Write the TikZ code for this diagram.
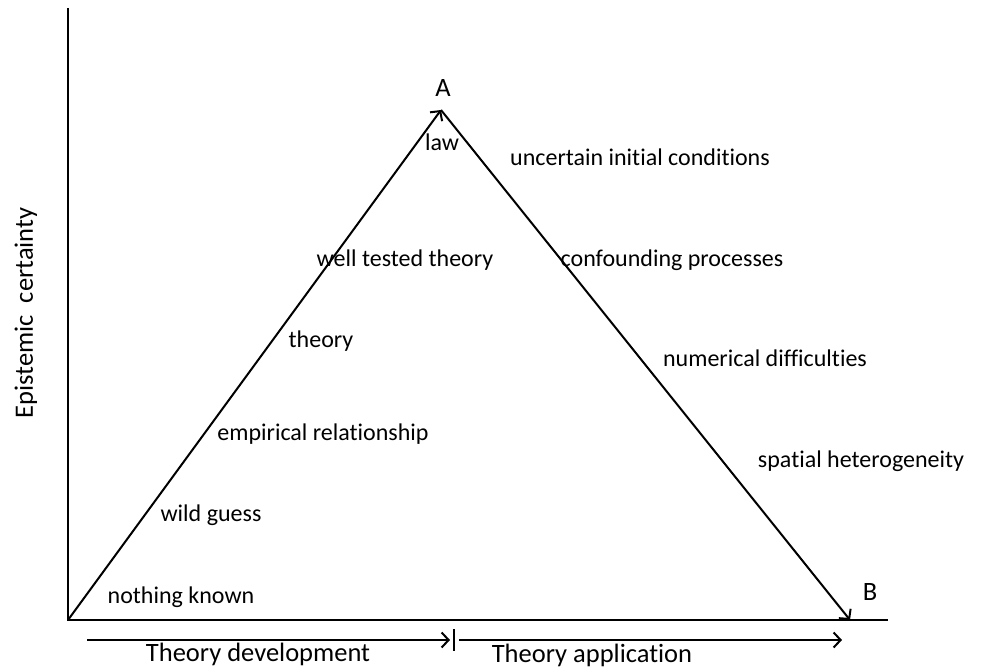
\documentclass[tikz,border=0pt]{standalone}
\usepackage{fontspec}
\setmainfont{Carlito}[Ligatures=NoCommon]
\usetikzlibrary{arrows.meta}
\begin{document}
\begin{tikzpicture}[x=1pt,y=-1pt,
  every node/.style={font=\fontsize{24}{28}\selectfont, inner sep=0pt},
  biglbl/.style={font=\fontsize{26.5}{30}\selectfont},
  axisline/.style={line width=2pt},
  flow/.style={line width=2pt, -{Straight Barb[length=7pt,width=15pt,line width=2pt]}},
  lbl/.style={anchor=center}]
  \useasboundingbox (0,0) rectangle (982,668);
  % axes
  \coordinate (top) at (68,8);
  \coordinate (origin) at (68,620);
  \coordinate (xend) at (888,620);
  \draw[axisline] (top) -- (origin) -- (xend);
  % triangle
  \coordinate (apex) at (441,110);
  \coordinate (bend) at (850,620);
  \draw[flow] (origin) -- (apex);
  \draw[flow] (apex) -- (bend);
  \node[biglbl] (A) at (443,88) {A};
  \node[biglbl] (B) at (870,592) {B};
  % phase arrows below the axis
  \coordinate (d0) at (87,640);
  \coordinate (d1) at (450,640);
  \coordinate (a0) at (459,640);
  \coordinate (a1) at (842,640);
  \coordinate (t0) at (454,629);
  \coordinate (t1) at (454,651);
  \draw[flow] (d0) -- (d1);
  \draw[flow] (a0) -- (a1);
  \draw[axisline] (t0) -- (t1);
  \node[biglbl] (dev) at (258,654) {Theory development};
  \node[biglbl] (app) at (592,655) {Theory application};
  % vertical axis label
  \node[biglbl,rotate=90] (ylab) at (26,313) {Epistemic\ \ certainty};
  % development stages
  \node[lbl] (law) at (442,142) {law};
  \node[lbl] (wtt) at (405,260) {well tested theory};
  \node[lbl] (th) at (321,341) {theory};
  \node[lbl] (emp) at (323,434) {empirical relationship};
  \node[lbl] (wild) at (211,515) {wild guess};
  \node[lbl] (none) at (181,597) {nothing known};
  % application difficulties
  \node[lbl] (unc) at (640,157) {uncertain initial conditions};
  \node[lbl] (conf) at (672,260) {confounding processes};
  \node[lbl] (num) at (765,358) {numerical difficulties};
  \node[lbl] (spat) at (861,461) {spatial heterogeneity};
\end{tikzpicture}
\end{document}
